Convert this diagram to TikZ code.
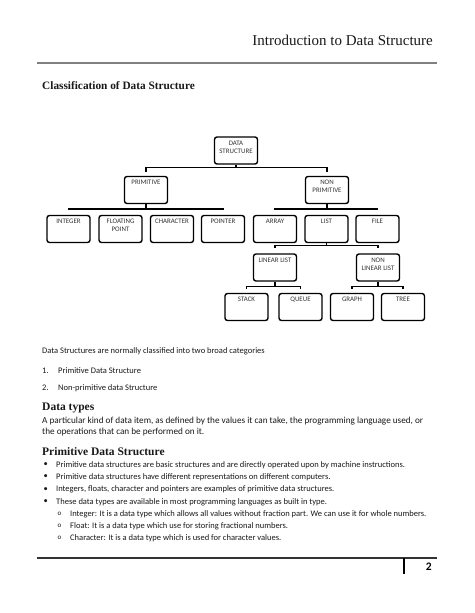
\documentclass[tikz,border=0pt]{standalone}
\usepackage{fontspec}
\setmainfont{Carlito}
\newfontfamily\hdfont{Liberation Serif}
\begin{document}
\begin{tikzpicture}[x=1pt,y=-1pt,
  box/.style={draw=black, rounded corners=2.5pt, line width=1.4pt, minimum width=43pt, minimum height=27pt, inner sep=0pt},
  lbl/.style={anchor=north, inner sep=0pt, align=center, font=\fontsize{6.9}{8}\selectfont, text=black!80},
  conn/.style={line width=1.5pt, black},
  txt/.style={anchor=west, inner sep=0pt, text=black!90},
  small/.style={txt, font=\fontsize{8.5}{10}\selectfont},
  para/.style={txt, font=\fontsize{9.2}{11}\selectfont},
  head/.style={txt, font=\hdfont\bfseries\fontsize{11.3}{13}\selectfont}]
\path[use as bounding box, fill=white] (0,0) rectangle (474,613);

% header
\node[anchor=east, inner sep=0pt, font=\hdfont\fontsize{15}{17}\selectfont, text=black!90] (title) at (433,40) {Introduction to Data Structure};
\coordinate (hl) at (37,63); \coordinate (hr) at (437,63);
\draw[line width=1.5pt, black!50] (hl) -- (hr);
\node[head] (h1) at (42,86) {Classification of Data Structure};

% boxes
\node[box] (ds) at (236,150.5) {};
\node[box] (prim) at (146,190) {};
\node[box] (nonp) at (327,190) {};
\node[box] (int) at (68.5,229) {};
\node[box] (flt) at (120.5,229) {};
\node[box] (chr) at (172,229) {};
\node[box] (ptr) at (223,229) {};
\node[box] (arr) at (275,229) {};
\node[box] (lst) at (326.5,229) {};
\node[box] (fil) at (377.5,229) {};
\node[box] (lin) at (275,267.5) {};
\node[box] (nlin) at (378,267.5) {};
\node[box] (stk) at (246.5,307) {};
\node[box] (que) at (300.5,307) {};
\node[box] (grp) at (352,307) {};
\node[box] (tre) at (403,307) {};

% labels
\node[lbl] (tds) at ([yshift=-4.5pt]ds.north) {DATA\\STRUCTURE};
\node[lbl] (tprim) at ([yshift=-4pt]prim.north) {PRIMITIVE};
\node[lbl] (tnonp) at ([yshift=-4pt]nonp.north) {NON\\PRIMITIVE};
\node[lbl] (tint) at ([yshift=-4pt]int.north) {INTEGER};
\node[lbl] (tflt) at ([yshift=-4pt]flt.north) {FLOATING\\POINT};
\node[lbl] (tchr) at ([yshift=-4pt]chr.north) {CHARACTER};
\node[lbl] (tptr) at ([yshift=-4pt]ptr.north) {POINTER};
\node[lbl] (tarr) at ([yshift=-4pt]arr.north) {ARRAY};
\node[lbl] (tlst) at ([yshift=-4pt]lst.north) {LIST};
\node[lbl] (tfil) at ([yshift=-4pt]fil.north) {FILE};
\node[lbl] (tlin) at ([yshift=-4.5pt]lin.north) {LINEAR LIST};
\node[lbl] (tnlin) at ([yshift=-4.5pt]nlin.north) {NON\\LINEAR LIST};
\node[lbl] (tstk) at ([yshift=-4.5pt]stk.north) {STACK};
\node[lbl] (tque) at ([yshift=-4.5pt]que.north) {QUEUE};
\node[lbl] (tgrp) at ([yshift=-4.5pt]grp.north) {GRAPH};
\node[lbl] (ttre) at ([yshift=-4.5pt]tre.north) {TREE};

% connectors
\foreach \c in {prim,nonp}
  \draw[conn, shorten >=4pt] (ds.south) -- ++(0,3) -| (\c.north);
\foreach \c in {int,flt,chr,ptr}
  \draw[conn, shorten >=5pt] (prim.south) -- ++(0,5) -| (\c.north);
\foreach \c in {arr,lst,fil}
  \draw[conn, shorten >=5pt] (nonp.south) -- ++(0,5) -| (\c.north);
\foreach \c in {lin,nlin}
  \draw[conn, shorten >=5pt] (lst.south) -- ++(0,2.5) -| (\c.north);
\foreach \c in {stk,que}
  \draw[conn, shorten >=4pt] (lin.south) -- ++(0,5) -| (\c.north);
\foreach \c in {grp,tre}
  \draw[conn, shorten >=4pt] (nlin.south) -- ++(0,5) -| (\c.north);

% body text
\node[small] (p1) at (42,351) {Data Structures are normally classified into two broad categories};
\node[small] (n1) at (42,371) {1.};
\node[small] (l1) at (58,371) {Primitive Data Structure};
\node[small] (n2) at (42,388) {2.};
\node[small] (l2) at (58,388) {Non-primitive data Structure};
\node[head, font=\hdfont\bfseries\fontsize{11.5}{13}\selectfont] (h2) at (42,408) {Data types};
\node[para] (p2) at (42,421) {A particular kind of data item, as defined by the values it can take, the programming language used, or};
\node[para] (p3) at (42,432.5) {the operations that can be performed on it.};
\node[head, font=\hdfont\bfseries\fontsize{11.5}{13}\selectfont] (h3) at (42,452) {Primitive Data Structure};

\node[small] (b1) at (43.5,465) {•};
\node[small] (t1) at (56,465) {Primitive data structures are basic structures and are directly operated upon by machine instructions.};
\node[small] (b2) at (43.5,477) {•};
\node[small] (t2) at (56,477) {Primitive data structures have different representations on different computers.};
\node[small] (b3) at (43.5,489.5) {•};
\node[small] (t3) at (56,489.5) {Integers, floats, character and pointers are examples of primitive data structures.};
\node[small] (b4) at (43.5,502) {•};
\node[small] (t4) at (56,502) {These data types are available in most programming languages as built in type.};
\node[small, font=\fontsize{7}{8}\selectfont] (s1) at (57.5,514) {o};
\node[small] (u1) at (70,514) {Integer: It is a data type which allows all values without fraction part. We can use it for whole numbers.};
\node[small, font=\fontsize{7}{8}\selectfont] (s2) at (57.5,526) {o};
\node[small] (u2) at (70,526) {Float: It is a data type which use for storing fractional numbers.};
\node[small, font=\fontsize{7}{8}\selectfont] (s3) at (57.5,538) {o};
\node[small] (u3) at (70,538) {Character: It is a data type which is used for character values.};

% footer
\coordinate (fl) at (37,558); \coordinate (fr) at (437,558);
\draw[line width=1.6pt, black!80] (fl) -- (fr);
\coordinate (vt) at (404,558); \coordinate (vb) at (404,574);
\draw[line width=1.2pt, black] (vt) -- (vb);
\node[anchor=east, inner sep=0pt, font=\bfseries\fontsize{11.5}{12}\selectfont] (pg) at (432,566.5) {2};
\end{tikzpicture}
\end{document}
